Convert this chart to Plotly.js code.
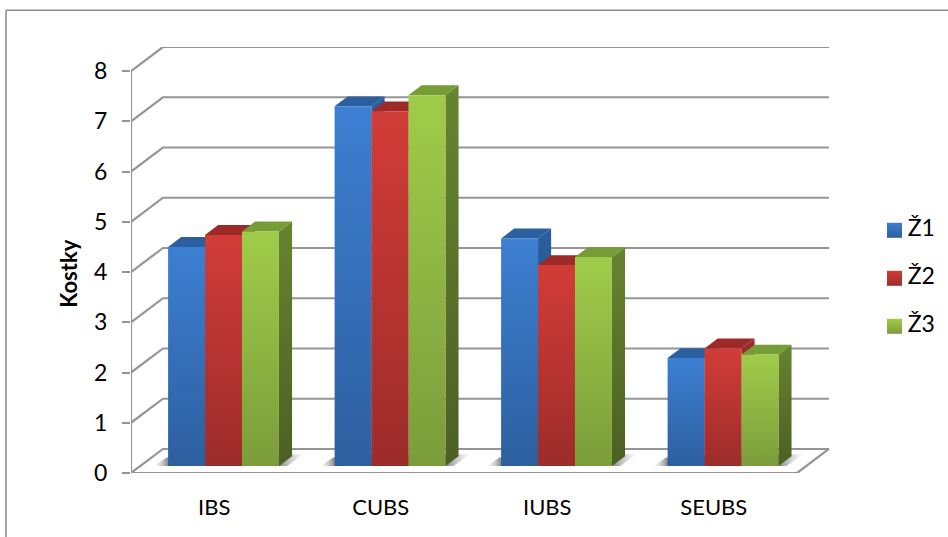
<!DOCTYPE html>
<html>
<head>
<meta charset="utf-8">
<script src="https://cdn.plot.ly/plotly-3.0.1.min.js"></script>
<style>html,body{margin:0;padding:0;background:#fff}#chart{width:948px;height:537px}</style>
</head>
<body>
<div id="chart"></div>
<script>
const categories = ['IBS', 'CUBS', 'IUBS', 'SEUBS'];
const seriesNames = ['Ž1', 'Ž2', 'Ž3'];
const z1 = [4.36, 7.16, 4.53, 2.15];
const z2 = [4.60, 7.06, 4.00, 2.34];
const z3 = [4.67, 7.38, 4.16, 2.22];
const yTicks = [0, 1, 2, 3, 4, 5, 6, 7, 8];

const seriesValues = [z1, z2, z3];
const frontColors = [['#3d7fd2', '#2d5f9f'], ['#d23c38', '#9c2c2a'], ['#a1cc4a', '#7b9c3b']];
const sideColors = [['#2a5f9f', '#1f4674'], ['#9c2b28', '#6d1e1d'], ['#66852f', '#4a6023']];
const topColors = ['#2b5f9f', '#9c2b28', '#769c35'];
const gridColor = '#959595';

// Pixel frame of the plotting area; it runs on past the floor to hold the series key.
const W = 948, H = 537, L = 131, R = 946, T = 46.7, B = 472.7;
const categoryWidth = 166.5;

// Oblique projection of the floor depth onto the value and category axes.
const depthX = 0.1919, depthY = 0.478;
const barWidth = 0.2219;
const frontDepth = 0.29, backDepth = 0.70;
const project = (x, y, d) => [x + d * depthX, y + d * depthY];

const xMax = -0.5 + (R - L) / categoryWidth, yMax = 8 + depthY;
const toX = p => -0.5 + (p - L) / categoryWidth;
const toY = p => (B - p) / (B - T) * yMax;
const px = v => (v - L) / (R - L);
const py = v => (B - v) / (B - T);

function polygon(points) {
  const closed = points.concat([points[0]]);
  return { x: closed.map(p => p[0]), y: closed.map(p => p[1]) };
}

function face(points, fill, extra) {
  return Object.assign(polygon(points), {
    type: 'scatter', mode: 'lines', fill: 'toself', line: { width: 0 },
    fillcolor: fill, showlegend: false, hoverinfo: 'skip', cliponaxis: false
  }, extra || {});
}

function vertical(top, bottom) {
  return { fillgradient: { type: 'vertical', colorscale: [[0, bottom], [1, top]] } };
}

const traces = [];

// Back wall, left wall and floor outline.
const grid = { x: [], y: [] };
yTicks.forEach(v => {
  [project(-0.5, v, 0), project(-0.5, v, 1), project(3.5, v, 1)].forEach(p => {
    grid.x.push(p[0]); grid.y.push(p[1]);
  });
  grid.x.push(null); grid.y.push(null);
});
[[project(-0.5, 0, 0), project(3.5, 0, 0), project(3.5, 0, 1)],
 [project(-0.5, 0, 0), project(-0.5, 8, 0)]].forEach(path => {
  path.forEach(p => { grid.x.push(p[0]); grid.y.push(p[1]); });
  grid.x.push(null); grid.y.push(null);
});
traces.push({
  x: grid.x, y: grid.y, type: 'scatter', mode: 'lines',
  line: { color: gridColor, width: 2.2 }, showlegend: false, hoverinfo: 'skip', cliponaxis: false
});

categories.forEach((name, c) => {
  const left = c - 1.5 * barWidth, right = c + 1.5 * barWidth;

  // Soft shadow cast on the floor around each group.
  const a = project(left - 0.085, 0, frontDepth);
  const b = project(left - 0.01, 0.17, frontDepth);
  const e = project(right + 0.15, 0.24, frontDepth);
  const f = project(right + 0.05, 0, frontDepth);
  traces.push(face([a, b, e, f], '#a8a8a8', {
    fillgradient: {
      type: 'horizontal',
      colorscale: [[0, 'rgba(190,190,190,0)'], [0.1, 'rgba(125,125,125,1)'],
                   [0.84, 'rgba(135,135,135,1)'], [1, 'rgba(225,225,225,0.2)']]
    }
  }));

  seriesValues.forEach((values, s) => {
    const v = values[c];
    const x0 = left + s * barWidth, x1 = x0 + barWidth;
    traces.push(face(
      [project(x1, 0, frontDepth), project(x1, 0, backDepth), project(x1, v, backDepth), project(x1, v, frontDepth)],
      sideColors[s][0], vertical(sideColors[s][0], sideColors[s][1])));
    traces.push(face(
      [project(x0, v, frontDepth), project(x0, v, backDepth), project(x1, v, backDepth), project(x1, v, frontDepth)],
      topColors[s]));
    traces.push(face(
      [project(x0, 0, frontDepth), project(x0, v, frontDepth), project(x1, v, frontDepth), project(x1, 0, frontDepth)],
      frontColors[s][0], vertical(frontColors[s][0], frontColors[s][1])));
  });
});

// Series key to the right of the floor.
const keyRows = [230, 278, 326];
seriesNames.forEach((name, s) => {
  traces.push({
    x: [toX(894.5)], y: [toY(keyRows[s])], text: ['\u2009' + name], name: name,
    type: 'scatter', mode: 'markers+text', textposition: 'middle right',
    textfont: { size: 23, color: '#000' },
    marker: { symbol: 'square', size: 15, color: frontColors[s][0],
              gradient: { type: 'vertical', color: frontColors[s][1] } },
    showlegend: false, hoverinfo: 'skip', cliponaxis: false
  });
});

const layout = {
  width: W, height: H,
  margin: { l: L, r: W - R, t: T, b: H - B, pad: 0 },
  paper_bgcolor: '#ffffff', plot_bgcolor: 'rgba(0,0,0,0)',
  font: { family: 'Lato, Carlito, sans-serif', color: '#000000' },
  showlegend: false,
  xaxis: {
    range: [-0.5, xMax], tickmode: 'array', tickvals: [0, 1, 2, 3], ticktext: categories,
    showgrid: false, zeroline: false, showline: false, ticks: '', ticklabelstandoff: 19,
    tickfont: { size: 22 }, fixedrange: true
  },
  yaxis: {
    range: [0, yMax], tickmode: 'array', tickvals: yTicks, ticktext: yTicks.map(String),
    showgrid: false, zeroline: false, showline: false,
    ticks: 'outside', ticklen: 8, tickwidth: 2, tickcolor: gridColor, ticklabelstandoff: 10,
    tickfont: { size: 23 }, fixedrange: true
  },
  annotations: [{
    text: '<b>Kostky</b>', xref: 'paper', yref: 'paper', x: px(69), y: py(273.5),
    showarrow: false, textangle: -90, font: { size: 22, color: '#000' }, xanchor: 'center', yanchor: 'middle'
  }],
  shapes: [
    { type: 'line', xref: 'paper', yref: 'paper', x0: px(6), x1: px(6), y0: py(10), y1: py(537), line: { color: '#8a8a8a', width: 1.5 } },
    { type: 'line', xref: 'paper', yref: 'paper', x0: px(6), x1: px(948), y0: py(10), y1: py(10), line: { color: '#8a8a8a', width: 1.5 } }
  ]
};

Plotly.newPlot('chart', traces, layout, { displayModeBar: false, staticPlot: true });
</script>
</body>
</html>
